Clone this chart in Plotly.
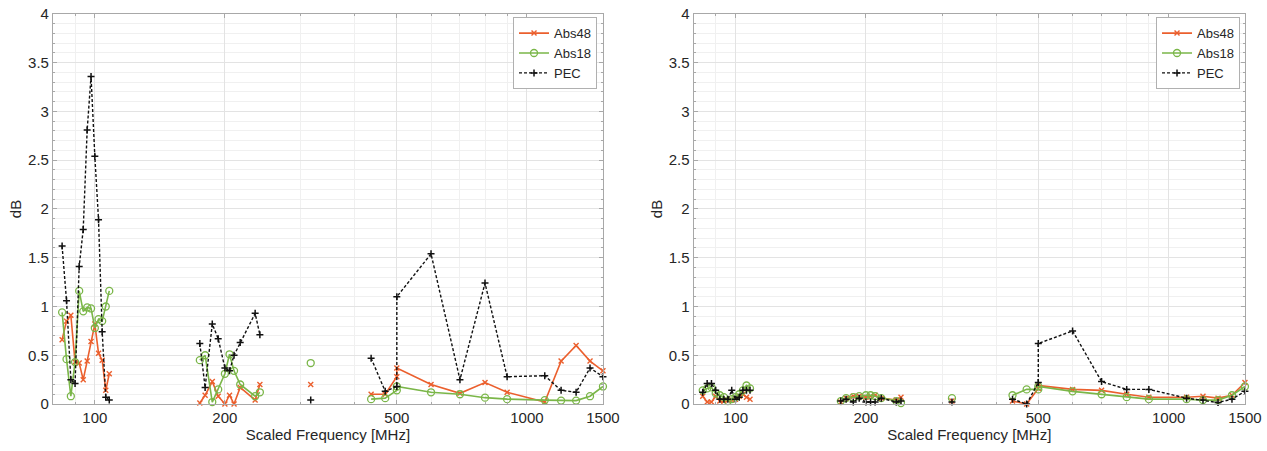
import plotly.graph_objects as go

# ---- frequency groups (MHz) ----
freq_g1 = [84, 86, 88, 90, 92, 94, 96, 98, 100, 102, 104, 106, 108]
freq_g2 = [175, 180, 187, 193, 200, 205, 210, 217, 235, 241]
freq_g3 = [316]
freq_g4 = [436, 470, 500, 500, 600, 700, 800, 900, 1100, 1200, 1300, 1400, 1500]

# ---- left panel values (dB) ----
L_abs48_g1 = [0.66, 0.85, 0.91, 0.43, 0.42, 0.25, 0.44, 0.64, 0.82, 0.52, 0.45, 0.14, 0.31]
L_abs18_g1 = [0.94, 0.46, 0.08, 0.43, 1.16, 0.95, 0.99, 0.98, 0.78, 0.87, 0.85, 1.00, 1.16]
L_pec_g1 = [1.62, 1.06, 0.25, 0.21, 1.41, 1.79, 2.81, 3.36, 2.54, 1.89, 0.74, 0.07, 0.04]
L_abs48_g2 = [0.01, 0.09, 0.23, 0.08, 0.00, 0.09, 0.00, 0.17, 0.04, 0.20]
L_abs18_g2 = [0.45, 0.50, 0.02, 0.15, 0.31, 0.51, 0.34, 0.20, 0.08, 0.12]
L_pec_g2 = [0.62, 0.17, 0.82, 0.67, 0.37, 0.34, 0.50, 0.63, 0.93, 0.71]
L_abs48_g3 = [0.20]
L_abs18_g3 = [0.42]
L_pec_g3 = [0.04]
L_abs48_g4 = [0.10, 0.10, 0.28, 0.37, 0.20, 0.11, 0.22, 0.12, 0.02, 0.44, 0.60, 0.44, 0.34]
L_abs18_g4 = [0.05, 0.06, 0.14, 0.18, 0.12, 0.10, 0.065, 0.05, 0.04, 0.035, 0.035, 0.08, 0.18]
L_pec_g4 = [0.47, 0.13, 0.18, 1.10, 1.54, 0.25, 1.24, 0.28, 0.29, 0.14, 0.12, 0.37, 0.28]

# ---- right panel values (dB) ----
R_abs48_g1 = [0.08, 0.02, 0.02, 0.08, 0.03, 0.03, 0.04, 0.04, 0.05, 0.08, 0.10, 0.07, 0.05]
R_abs18_g1 = [0.14, 0.16, 0.17, 0.11, 0.09, 0.07, 0.03, 0.05, 0.07, 0.10, 0.14, 0.19, 0.16]
R_pec_g1 = [0.12, 0.21, 0.21, 0.14, 0.05, 0.05, 0.05, 0.14, 0.05, 0.07, 0.14, 0.14, 0.14]
R_abs48_g2 = [0.02, 0.06, 0.08, 0.08, 0.07, 0.08, 0.09, 0.06, 0.04, 0.07]
R_abs18_g2 = [0.03, 0.06, 0.07, 0.08, 0.09, 0.09, 0.08, 0.06, 0.03, 0.01]
R_pec_g2 = [0.03, 0.05, 0.02, 0.06, 0.02, 0.02, 0.02, 0.06, 0.02, 0.03]
R_abs48_g3 = [0.03]
R_abs18_g3 = [0.06]
R_pec_g3 = [0.02]
R_abs48_g4 = [0.03, 0.00, 0.16, 0.19, 0.15, 0.14, 0.10, 0.07, 0.07, 0.08, 0.06, 0.09, 0.22]
R_abs18_g4 = [0.09, 0.15, 0.15, 0.18, 0.13, 0.10, 0.07, 0.05, 0.05, 0.04, 0.04, 0.09, 0.18]
R_pec_g4 = [0.05, 0.00, 0.22, 0.62, 0.75, 0.23, 0.15, 0.15, 0.06, 0.04, 0.015, 0.05, 0.13]

x_ticks = [100, 200, 500, 1000, 1500]
x_tick_labels = ["100", "200", "500", "1000", "1500"]
x_minor = [80, 90, 300, 400, 600, 700, 800, 900]
y_ticks = [0, 0.5, 1, 1.5, 2, 2.5, 3, 3.5, 4]
y_tick_labels = ["0", "0.5", "1", "1.5", "2", "2.5", "3", "3.5", "4"]

freq_groups = [freq_g1, freq_g2, freq_g3, freq_g4]


def join(groups):
    out = []
    for i, g in enumerate(groups):
        if i:
            out.append(None)
        out.extend(g)
    return out


X = join(freq_groups)

ORANGE = "#EB5F2D"
GREEN = "#7AB648"
BLACK = "#111111"
FONT = "Liberation Sans, Arial, Helvetica, sans-serif"

styles = {
    "Abs48": dict(line=dict(color=ORANGE, width=1.6),
                  marker=dict(symbol="x-thin-open", size=5, color=ORANGE,
                              line=dict(color=ORANGE, width=1.4))),
    "Abs18": dict(line=dict(color=GREEN, width=1.6),
                  marker=dict(symbol="circle-open", size=7, color=GREEN,
                              line=dict(color=GREEN, width=1.3))),
    "PEC": dict(line=dict(color=BLACK, width=1.4, dash="3px,2px"),
                marker=dict(symbol="cross-thin-open", size=5, color=BLACK,
                            line=dict(color=BLACK, width=1.5))),
}

panels = [
    ("x", "y", "legend", {
        "Abs48": [L_abs48_g1, L_abs48_g2, L_abs48_g3, L_abs48_g4],
        "Abs18": [L_abs18_g1, L_abs18_g2, L_abs18_g3, L_abs18_g4],
        "PEC": [L_pec_g1, L_pec_g2, L_pec_g3, L_pec_g4],
    }),
    ("x2", "y2", "legend2", {
        "Abs48": [R_abs48_g1, R_abs48_g2, R_abs48_g3, R_abs48_g4],
        "Abs18": [R_abs18_g1, R_abs18_g2, R_abs18_g3, R_abs18_g4],
        "PEC": [R_pec_g1, R_pec_g2, R_pec_g3, R_pec_g4],
    }),
]

fig = go.Figure()
for xa, ya, leg, series in panels:
    for name in ["Abs48", "Abs18", "PEC"]:
        st = styles[name]
        fig.add_trace(go.Scatter(
            x=X, y=join(series[name]), name=name, mode="lines+markers",
            line=st["line"], marker=st["marker"], connectgaps=False,
            xaxis=xa, yaxis=ya, legend=leg, cliponaxis=False,
        ))

AX_LINE = "#A8A8A8"
GRID = "#E3E3E3"
MINOR_GRID = "#F0F0F0"
TXT = "#262626"

xcommon = dict(
    type="log", range=[1.9031, 3.1761], automargin=False,
    tickmode="array", tickvals=x_ticks, ticktext=x_tick_labels,
    showline=True, linecolor=AX_LINE, linewidth=1, mirror="ticks",
    ticks="inside", ticklen=4, tickcolor=AX_LINE,
    showgrid=True, gridcolor=GRID, gridwidth=1,
    minor=dict(tickmode="array", tickvals=x_minor, ticks="inside", ticklen=2,
               tickcolor=AX_LINE, showgrid=True, gridcolor=MINOR_GRID),
    zeroline=False,
    tickfont=dict(family=FONT, size=15, color=TXT),
    title=dict(text="Scaled Frequency [MHz]", font=dict(family=FONT, size=15, color=TXT),
               standoff=4),
)
ycommon = dict(
    range=[0, 4], automargin=False,
    tickmode="array", tickvals=y_ticks, ticktext=y_tick_labels,
    showline=True, linecolor=AX_LINE, linewidth=1, mirror="ticks",
    ticks="inside", ticklen=4, tickcolor=AX_LINE,
    showgrid=True, gridcolor=GRID, gridwidth=1,
    minor=dict(dtick=0.1, ticks="inside", ticklen=2, tickcolor=AX_LINE,
               showgrid=True, gridcolor=MINOR_GRID),
    zeroline=False,
    tickfont=dict(family=FONT, size=15, color=TXT),
    title=dict(text="dB", font=dict(family=FONT, size=15, color=TXT), standoff=2),
    domain=[0.1042, 0.969],
)

legcommon = dict(
    bgcolor="white", bordercolor="#B0B0B0", borderwidth=1,
    font=dict(family=FONT, size=13, color=TXT),
    xanchor="right", yanchor="top", tracegroupgap=0, itemwidth=30,
)

fig.update_layout(
    width=1267, height=451,
    margin=dict(l=0, r=0, t=0, b=0, autoexpand=False),
    paper_bgcolor="white", plot_bgcolor="white",
    showlegend=True,
    xaxis=dict(xcommon, domain=[0.0418, 0.4759], anchor="y"),
    yaxis=dict(ycommon, anchor="x"),
    xaxis2=dict(xcommon, domain=[0.5474, 0.9826], anchor="y2"),
    yaxis2=dict(ycommon, anchor="x2"),
    legend=dict(legcommon, x=0.4712, y=0.962),
    legend2=dict(legcommon, x=0.9787, y=0.962),
)

fig.write_html("out.html")
